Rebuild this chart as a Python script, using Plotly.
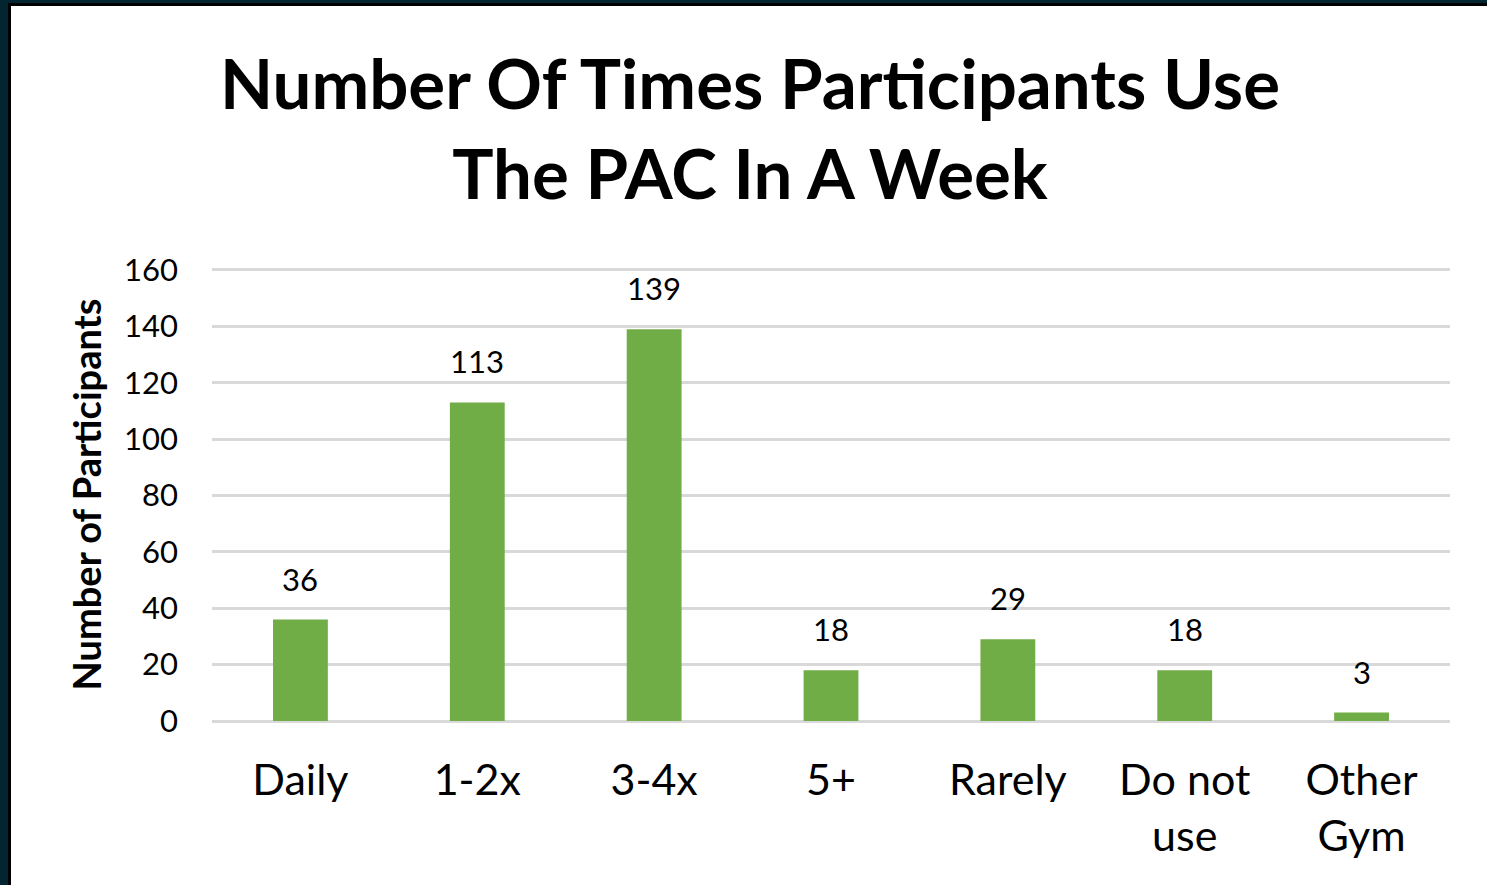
import plotly.graph_objects as go

categories = ["Daily", "1-2x", "3-4x", "5+", "Rarely", "Do not<br>use", "Other<br>Gym"]
values = [36, 113, 139, 18, 29, 18, 3]
y_ticks = [0, 20, 40, 60, 80, 100, 120, 140, 160]

W, H = 1487, 885
YMAX = 160.7
ML, MR, MT, MB = 212, 37, 268, 164
PW, PH = W - ML - MR, H - MT - MB

def px_x(p):
    return (p - ML) / PW

def px_y(p):
    return (H - MB - p) / PH

FONT = "Lato"

fig = go.Figure()
fig.add_trace(go.Bar(
    x=categories, y=values,
    marker=dict(color="#70AD47", line=dict(width=0)),
    width=0.31,
    hoverinfo="x+y",
))

for c, v in zip(categories, values):
    fig.add_annotation(x=c, y=v, text=str(v), showarrow=False,
                       yanchor="middle", yshift=41,
                       font=dict(family=FONT, size=31, color="#000000"))

shapes = [
    dict(type="rect", xref="paper", yref="paper", x0=px_x(0), x1=px_x(8), y0=px_y(H), y1=px_y(0),
         fillcolor="#022531", line=dict(width=0), layer="above"),
    dict(type="rect", xref="paper", yref="paper", x0=px_x(8), x1=px_x(11), y0=px_y(H), y1=px_y(6),
         fillcolor="#000000", line=dict(width=0), layer="above"),
    dict(type="rect", xref="paper", yref="paper", x0=px_x(0), x1=px_x(W), y0=px_y(3), y1=px_y(0),
         fillcolor="#022531", line=dict(width=0), layer="above"),
    dict(type="rect", xref="paper", yref="paper", x0=px_x(8), x1=px_x(W), y0=px_y(6), y1=px_y(3),
         fillcolor="#000000", line=dict(width=0), layer="above"),
]

fig.update_layout(
    width=W, height=H,
    margin=dict(l=ML, r=MR, t=MT, b=MB, pad=0),
    paper_bgcolor="#FFFFFF", plot_bgcolor="#FFFFFF",
    showlegend=False,
    bargap=0.69,
    title=dict(text="<b>Number Of Times Participants Use<br>The PAC In A Week</b>",
               x=750 / W, xanchor="center",
               y=1 - 109 / H, yanchor="middle",
               font=dict(family=FONT, size=69, color="#000000")),
    font=dict(family=FONT, color="#000000"),
    shapes=shapes,
    xaxis=dict(showgrid=False, showline=False, zeroline=False, ticks="",
               tickfont=dict(family=FONT, size=43, color="#000000"),
               ticklabelstandoff=30),
    yaxis=dict(range=[0, YMAX], tickvals=y_ticks, showgrid=True, gridcolor="#D9D9D9", gridwidth=3,
               zeroline=True, zerolinecolor="#D9D9D9", zerolinewidth=3, showline=False,
               ticks="", tickfont=dict(family=FONT, size=31, color="#000000"),
               ticklabelstandoff=33,
               title=dict(text="<b>Number of Participants</b>", standoff=10,
                          font=dict(family=FONT, size=38, color="#000000"))),
)

fig.write_html("out.html", config={"displayModeBar": False},
               post_script="document.body.style.margin='0';document.body.style.padding='0';")
